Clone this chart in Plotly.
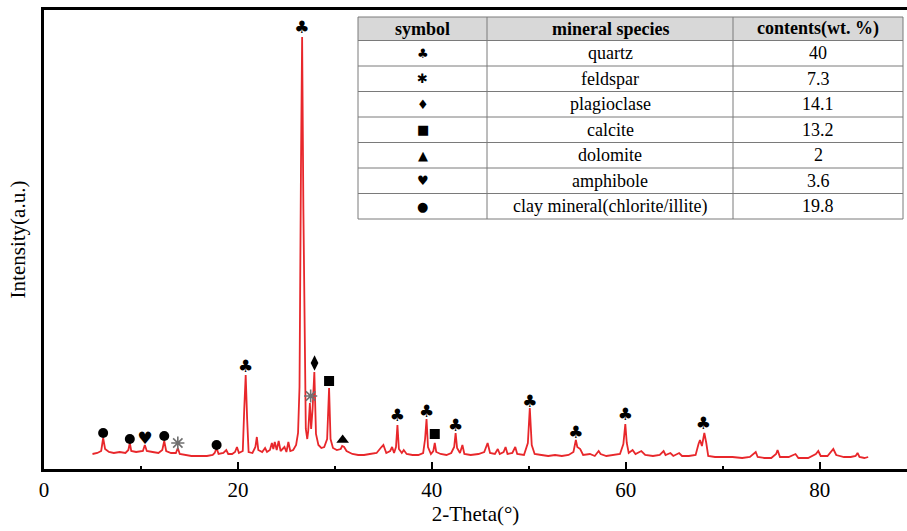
import plotly.graph_objects as go

# ---- XRD pattern (2-Theta in degrees, intensity in a.u.) ----
two_theta = [5.0, 5.5, 5.9, 6.1, 6.3, 6.7, 7.2, 7.8, 8.4, 8.7, 8.85, 9.0, 9.5, 10.2, 10.4, 10.6,
             11.2, 11.8, 12.2, 12.4, 12.6, 13.1, 13.6, 13.8, 14.0, 14.5, 15.2, 16.0, 16.8, 17.4,
             17.6, 17.8, 18.0, 18.5, 18.8, 19.0, 19.4, 19.7, 19.9, 20.1, 20.5, 20.65, 20.8, 20.95,
             21.1, 21.5, 21.8, 21.95, 22.1, 22.5, 22.8, 23.0, 23.3, 23.5, 23.65, 23.8, 24.0, 24.2,
             24.4, 24.8, 25.0, 25.2, 25.4, 25.7, 26.0, 26.2, 26.35, 26.5, 26.62, 26.75, 26.9, 27.0,
             27.15, 27.25, 27.42, 27.55, 27.7, 27.88, 28.05, 28.3, 28.6, 28.9, 29.2, 29.4, 29.55,
             29.8, 30.2, 30.6, 30.75, 30.95, 31.2, 31.8, 32.4, 33.0, 33.6, 34.3, 34.8, 35.0, 35.3,
             35.7, 35.9, 36.1, 36.3, 36.45, 36.6, 36.9, 37.1, 37.4, 38.0, 38.6, 39.1, 39.3, 39.45,
             39.6, 39.9, 40.15, 40.3, 40.45, 40.9, 41.5, 42.0, 42.3, 42.45, 42.6, 42.9, 43.15, 43.35,
             44.0, 44.8, 45.4, 45.75, 46.0, 46.5, 46.8, 47.0, 47.4, 47.6, 47.8, 48.3, 48.6, 48.8,
             49.5, 49.9, 50.1, 50.3, 50.6, 51.3, 52.0, 52.7, 53.4, 54.1, 54.6, 54.85, 55.0, 55.3,
             55.6, 56.3, 56.8, 57.2, 57.4, 58.0, 58.7, 59.4, 59.75, 59.95, 60.1, 60.3, 60.7, 61.0,
             61.6, 62.0, 62.8, 63.5, 63.9, 64.1, 64.6, 64.9, 65.5, 65.8, 66.5, 67.2, 67.5, 67.65,
             67.85, 68.1, 68.3, 68.5, 69.2, 70.0, 71.0, 72.0, 72.8, 73.4, 73.6, 74.3, 75.0, 75.5,
             75.65, 75.9, 76.8, 77.5, 77.8, 78.8, 79.6, 79.85, 80.1, 80.8, 81.2, 81.4, 81.7, 82.5,
             83.2, 83.7, 83.9, 84.1, 84.6, 85.0]
intensity = [15, 16, 18, 31, 20, 17, 16, 17, 16, 19, 26, 18, 17, 18, 24, 18,
             17, 16, 19, 28, 18, 16, 16, 21, 15, 14, 13, 13, 13, 14,
             16, 21, 15, 16, 19, 15, 15, 17, 22, 16, 18, 60, 94, 50,
             17, 16, 22, 32, 19, 17, 21, 17, 19, 26, 20, 27, 19, 28,
             18, 22, 17, 27, 18, 19, 24, 36, 82, 300, 432, 260, 100, 40,
             30, 38, 66, 40, 60, 97, 35, 24, 21, 22, 30, 81, 30,
             21, 19, 20, 23, 22, 18, 15, 14, 14, 15, 16, 22, 24, 16,
             18, 22, 16, 22, 44, 20, 16, 19, 15, 14, 14, 16, 30, 50,
             22, 15, 18, 26, 17, 15, 14, 16, 22, 36, 21, 16, 24, 15,
             14, 15, 17, 26, 16, 15, 20, 15, 17, 22, 15, 16, 22, 15,
             14, 26, 61, 24, 15, 14, 13, 14, 13, 14, 17, 29, 22, 20,
             14, 15, 13, 18, 15, 13, 14, 15, 25, 45, 26, 16, 19, 15,
             18, 14, 13, 14, 18, 14, 16, 13, 16, 13, 13, 14, 25, 29,
             23, 36, 26, 13, 12, 12, 12, 11, 12, 17, 12, 11, 11, 15,
             19, 12, 12, 15, 11, 11, 15, 18, 13, 13, 18, 20, 14, 12,
             12, 13, 16, 12, 11, 12]

# ---- mineral peak labels (2-Theta, label height) ----
quartz_x = [20.8, 26.6, 36.45, 39.45, 42.45, 50.1, 54.85, 59.95, 68.0]
quartz_y = [101, 440, 52, 56, 42, 66, 35, 53, 44]
feldspar_x = [13.8, 27.5]
feldspar_y = [26, 73]
plagioclase_x = [27.9]
plagioclase_y = [106]
calcite_x = [29.4, 40.3]
calcite_y = [88, 35]
dolomite_x = [30.8]
dolomite_y = [29]
amphibole_x = [10.4]
amphibole_y = [29]
clay_x = [6.1, 8.85, 12.4, 17.8]
clay_y = [36, 30, 33, 24]

# ---- composition table ----
table_symbols = ["♣", "✱", "♦", "■", "▲", "♥", "●"]
table_minerals = ["quartz", "feldspar", "plagioclase", "calcite", "dolomite", "amphibole",
                  "clay mineral(chlorite/illite)"]
table_contents = ["40", "7.3", "14.1", "13.2", "2", "3.6", "19.8"]
table_headers = ["symbol", "mineral species", "contents(wt. %)"]

x_ticks = [0, 20, 40, 60, 80]

SERIF = "Liberation Serif"
W, H = 907, 531
ML, MR, MT, MB = 44, 0, 10, 62
PW, PH = W - ML - MR, H - MT - MB

fig = go.Figure()

fig.add_trace(go.Scatter(x=two_theta, y=intensity, mode="lines",
                         line=dict(color="#e8272b", width=1.8), showlegend=False,
                         hoverinfo="skip"))

# text-glyph labels
fig.add_trace(go.Scatter(x=quartz_x, y=quartz_y, mode="text", text=["♣"] * len(quartz_x),
                         textfont=dict(family="DejaVu Sans", size=17, color="black"),
                         showlegend=False))
fig.add_trace(go.Scatter(x=amphibole_x, y=amphibole_y, mode="text", text=["♥"] * len(amphibole_x),
                         textfont=dict(family="DejaVu Sans", size=17, color="black"),
                         showlegend=False))
# marker labels
fig.add_trace(go.Scatter(x=feldspar_x, y=feldspar_y, mode="markers",
                         marker=dict(symbol="asterisk-open", size=11, color="#707070",
                                     line=dict(color="#707070", width=1.6)),
                         showlegend=False))
fig.add_trace(go.Scatter(x=plagioclase_x, y=plagioclase_y, mode="markers",
                         marker=dict(symbol="diamond-tall", size=11, color="black"),
                         showlegend=False))
fig.add_trace(go.Scatter(x=calcite_x, y=calcite_y, mode="markers",
                         marker=dict(symbol="square", size=10, color="black"),
                         showlegend=False))
fig.add_trace(go.Scatter(x=dolomite_x, y=dolomite_y, mode="markers",
                         marker=dict(symbol="triangle-up", size=11, color="black"),
                         showlegend=False))
fig.add_trace(go.Scatter(x=clay_x, y=clay_y, mode="markers",
                         marker=dict(symbol="circle", size=10, color="black"),
                         showlegend=False))

# ---- table drawn with shapes + annotations (pixel layout -> paper coords) ----
def px(xp):
    return (xp - ML) / PW

def py(yp):
    return (H - MB - yp) / PH

col_edges = [358, 487, 733, 903]
head_top, head_bot, row_h = 17, 40.5, 25.5
n_rows = len(table_minerals)
row_edges = [head_bot + i * row_h for i in range(n_rows + 1)]
grid = "#7a7a7a"

shapes = []
# backgrounds
shapes.append(dict(type="rect", xref="paper", yref="paper", layer="above",
                   x0=px(col_edges[0]), x1=px(col_edges[-1]), y0=py(row_edges[-1]), y1=py(head_bot),
                   fillcolor="white", line=dict(width=0)))
shapes.append(dict(type="rect", xref="paper", yref="paper", layer="above",
                   x0=px(col_edges[0]), x1=px(col_edges[-1]), y0=py(head_bot), y1=py(head_top),
                   fillcolor="#d8d8d8", line=dict(width=0)))
# horizontal lines
for yv in [head_top] + row_edges:
    shapes.append(dict(type="line", xref="paper", yref="paper", layer="above",
                       x0=px(col_edges[0]), x1=px(col_edges[-1]), y0=py(yv), y1=py(yv),
                       line=dict(color=grid, width=1)))
# vertical lines
for xv in col_edges:
    shapes.append(dict(type="line", xref="paper", yref="paper", layer="above",
                       x0=px(xv), x1=px(xv), y0=py(row_edges[-1]), y1=py(head_top),
                       line=dict(color=grid, width=1)))

annotations = []
col_centers = [(col_edges[i] + col_edges[i + 1]) / 2 for i in range(3)]
for c, h in zip(col_centers, table_headers):
    annotations.append(dict(x=px(c), y=py((head_top + head_bot) / 2), xref="paper", yref="paper",
                            text=f"<b>{h}</b>", showarrow=False, xanchor="center", yanchor="middle",
                            font=dict(family=SERIF, size=18, color="black")))
for i in range(n_rows):
    yc = py(row_edges[i] + row_h / 2)
    cols = [table_symbols[i], table_minerals[i], table_contents[i]]
    for j, (c, t) in enumerate(zip(col_centers, cols)):
        annotations.append(dict(x=px(c), y=yc, xref="paper", yref="paper", text=t,
                                showarrow=False, xanchor="center", yanchor="middle",
                                font=dict(family="DejaVu Sans" if j == 0 else SERIF,
                                          size=13 if j == 0 else 18, color="black")))

fig.update_layout(
    width=W, height=H,
    margin=dict(l=ML, r=MR, t=MT, b=MB),
    paper_bgcolor="white", plot_bgcolor="white",
    font=dict(family=SERIF, color="black"),
    shapes=shapes, annotations=annotations,
    xaxis=dict(range=[0, 89], tickvals=x_ticks, ticks="inside", ticklen=7, tickwidth=1.5,
               tickcolor="black", showline=True, linewidth=2.5, linecolor="black", mirror=True,
               showgrid=False, zeroline=False, tickfont=dict(family=SERIF, size=21),
               minor=dict(dtick=10, ticks="inside", ticklen=3, tickwidth=1.5, tickcolor="black",
                          showgrid=False),
               title=dict(text="2-Theta(°)", font=dict(family=SERIF, size=21), standoff=6),
               automargin=False),
    yaxis=dict(range=[0, 459], showline=True, linewidth=2.5, linecolor="black", mirror=False,
               showticklabels=False, ticks="", showgrid=False, zeroline=False,
               title=dict(text="Intensity(a.u.)", font=dict(family=SERIF, size=21), standoff=10),
               automargin=False),
)

fig.write_html("out.html")
